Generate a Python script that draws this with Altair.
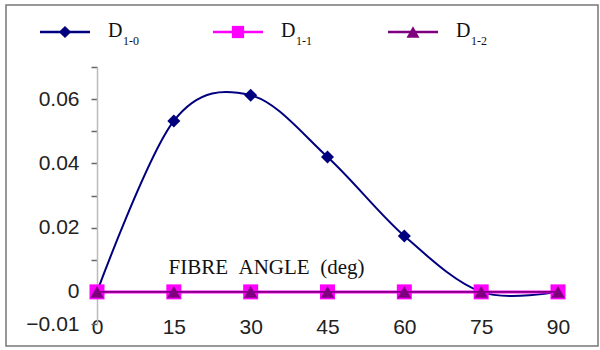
import altair as alt
import pandas as pd

angles = [0, 15, 30, 45, 60, 75, 90]
d10 = [0.0, 0.0532, 0.0612, 0.0420, 0.0174, 0.0, 0.0]
d11 = [0.0, 0.0, 0.0, 0.0, 0.0, 0.0, 0.0]
d12 = [0.0, 0.0, 0.0, 0.0, 0.0, 0.0, 0.0]
series_names = ["D1-0", "D1-1", "D1-2"]
series_subs = ["1-0", "1-1", "1-2"]
y_ticks = [-0.01, 0.0, 0.01, 0.02, 0.03, 0.04, 0.05, 0.06, 0.07]
x_title = "FIBRE\u00a0\u00a0ANGLE\u00a0\u00a0(deg)"

colors = ["#00007F", "#FF00FF", "#7F007F"]
shapes = ["diamond", "square", "triangle-up"]
sizes = [170, 225, 180]

W, H = 461, 257

x_enc = alt.X(
    "angle:Q",
    scale=alt.Scale(domain=[0, 90], nice=False, zero=False),
    axis=alt.Axis(
        values=angles,
        domain=False,
        ticks=False,
        tickSize=0,
        grid=False,
        labelFont="Liberation Sans",
        labelFontSize=21,
        labelColor="#222222",
        labelBaseline="middle",
        labelPadding=3,
        labelFlush=False,
        title=x_title,
        titleFont="Liberation Serif",
        titleFontSize=21,
        titleFontWeight="normal",
        titleColor="#111111",
        titleX=169,
        titleY=-51,
        titleAlign="center",
        titleBaseline="alphabetic",
    ),
)
y_enc = alt.Y(
    "value:Q",
    scale=alt.Scale(domain=[-0.01, 0.07], nice=False, zero=False),
    axis=alt.Axis(
        values=y_ticks,
        format=".2~f",
        labelExpr="(datum.label == '0.01' || datum.label == '0.03' || datum.label == '0.05' || datum.label == '0.07') ? '' : datum.label",
        grid=False,
        domainColor="#bbbbbb",
        domainWidth=1.5,
        tickColor="#666666",
        tickSize=6,
        tickWidth=1.5,
        labelFont="Liberation Sans",
        labelFontSize=21,
        labelColor="#222222",
        labelPadding=12,
        labelFlush=False,
        title=None,
    ),
)

layers = []

frame = alt.Chart(pd.DataFrame({"k": [0]})).mark_rect(
    filled=False, stroke="#777777", strokeWidth=1.5
).encode(
    x=alt.value(-91), x2=alt.value(501), y=alt.value(-62), y2=alt.value(279)
)
layers.append(frame)

all_vals = [d10, d11, d12]
for i, vals in enumerate(all_vals):
    df = pd.DataFrame({"angle": angles, "value": vals, "series": series_names[i]})
    base = alt.Chart(df)
    interp = "cardinal" if i == 0 else "linear"
    sw = 2 if i == 0 else (3 if i == 1 else 1.6)
    line = base.mark_line(color=colors[i], strokeWidth=sw, interpolate=interp).encode(
        x=x_enc, y=y_enc
    )
    pts = base.mark_point(
        filled=True, shape=shapes[i], size=sizes[i], color=colors[i], opacity=1
    ).encode(x=x_enc, y=y_enc)
    layers.append(line)
    layers.append(pts)

# legend
leg_x = [-57, 116, 291]
leg_y = -35
for i in range(3):
    ldf = pd.DataFrame({"sub": [series_subs[i]]})
    lb = alt.Chart(ldf)
    layers.append(
        lb.mark_rule(color=colors[i], strokeWidth=2.5).encode(
            x=alt.value(leg_x[i]), x2=alt.value(leg_x[i] + 50), y=alt.value(leg_y)
        )
    )
    layers.append(
        lb.mark_point(
            filled=True, shape=shapes[i], size=[150, 150, 170][i], color=colors[i], opacity=1
        ).encode(x=alt.value(leg_x[i] + 25), y=alt.value(leg_y))
    )
    layers.append(
        lb.mark_text(
            font="Liberation Serif", fontSize=20, align="left", baseline="alphabetic", color="#111111"
        ).encode(x=alt.value(leg_x[i] + 68), y=alt.value(-30), text=alt.value("D"))
    )
    layers.append(
        lb.mark_text(
            font="Liberation Serif", fontSize=12, align="left", baseline="alphabetic", color="#111111"
        ).encode(x=alt.value(leg_x[i] + 83), y=alt.value(-22), text="sub:N")
    )

chart = (
    alt.layer(*layers)
    .properties(
        width=W,
        height=H,
        autosize=alt.AutoSizeParams(type="none"),
        padding={"left": 97, "top": 67, "right": 42, "bottom": 26},
        background="white",
    )
    .configure_view(stroke=None)
)

chart.save("out.html", embed_options={"renderer": "svg", "actions": False})
